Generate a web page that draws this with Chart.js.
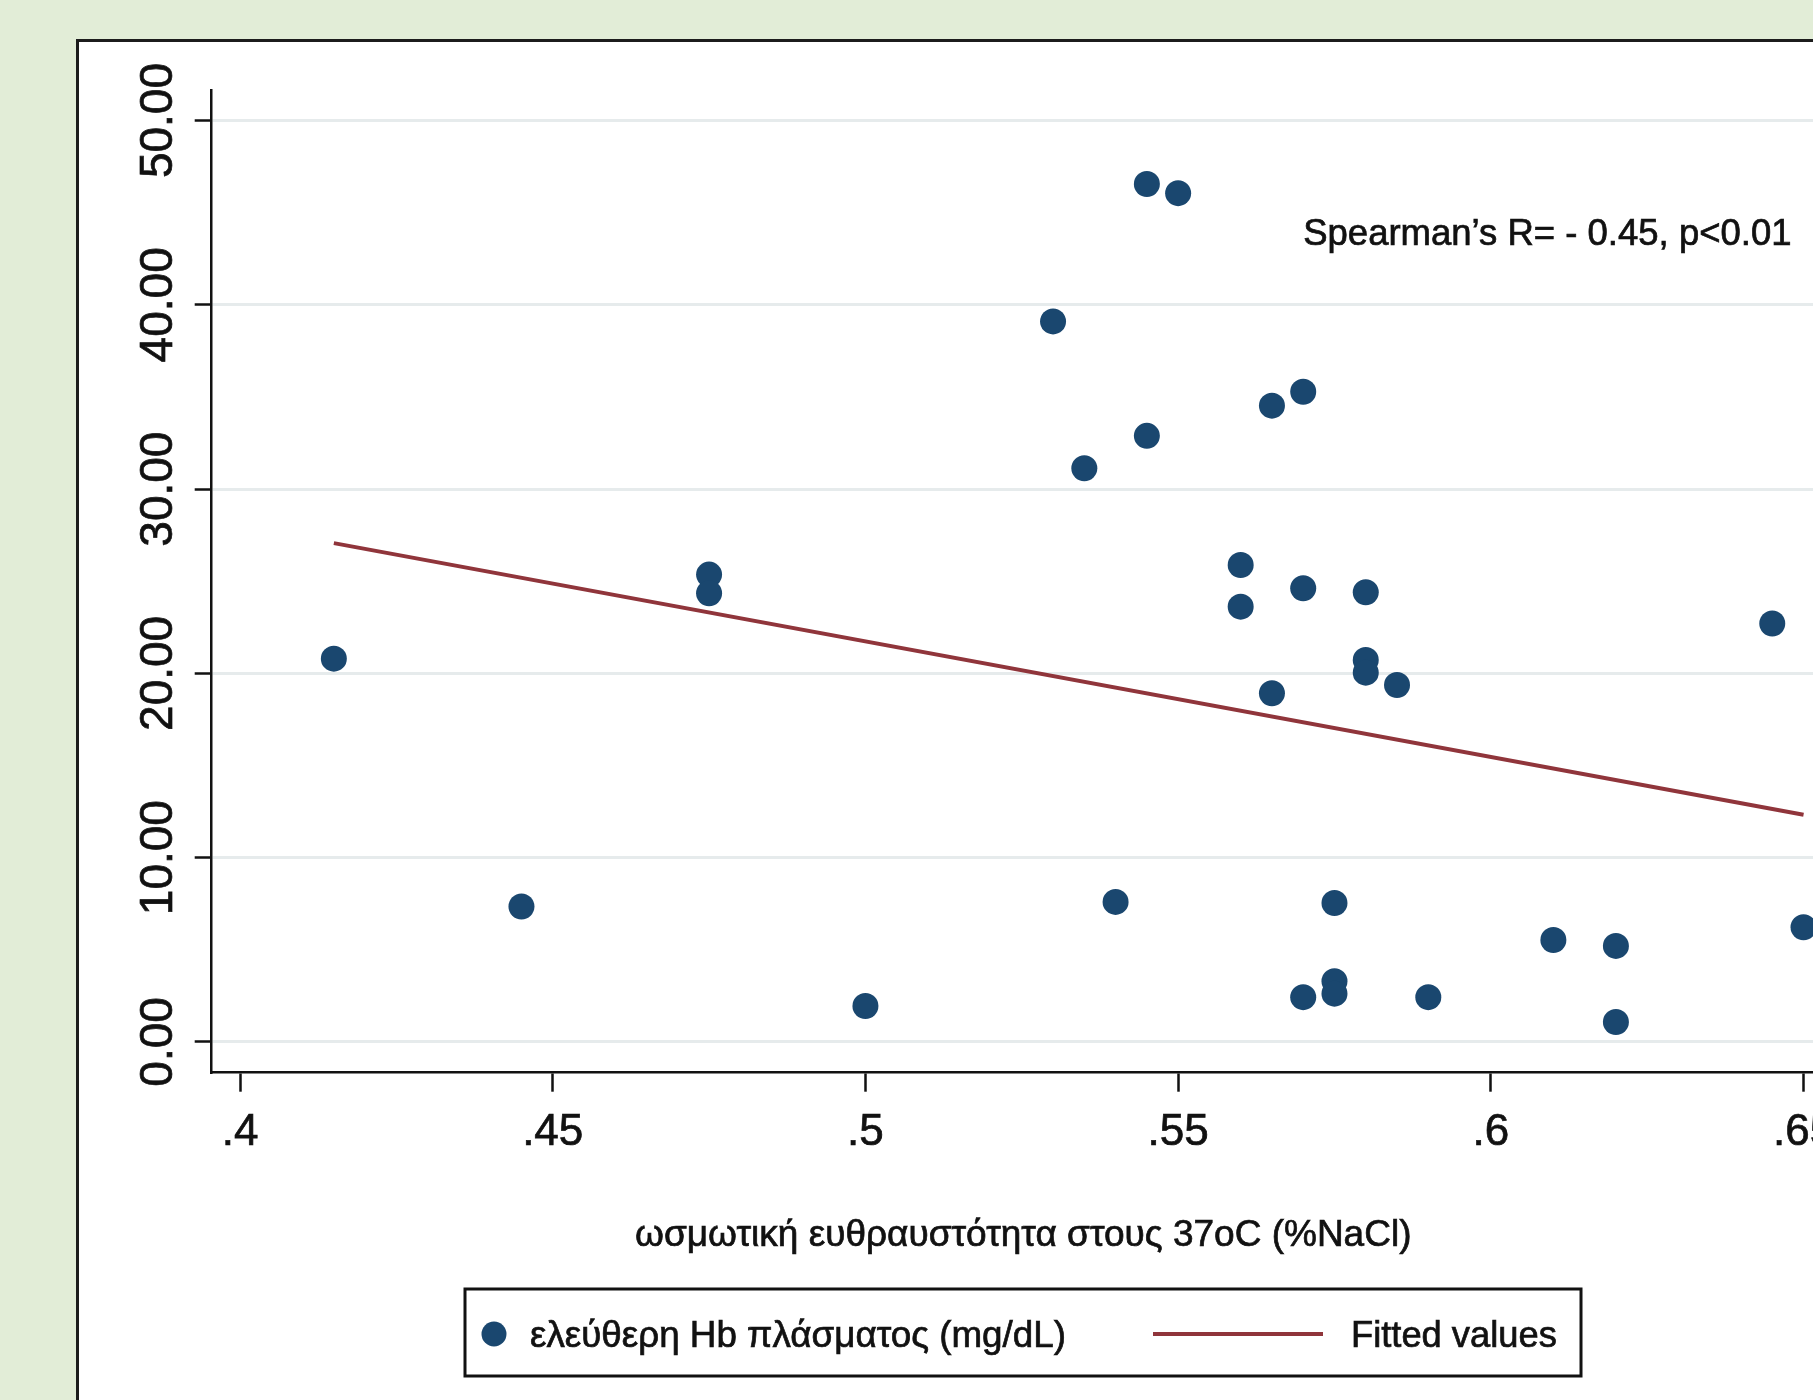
<!DOCTYPE html>
<html>
<head>
<meta charset="utf-8">
<script src="https://cdn.jsdelivr.net/npm/chart.js@4.4.1/dist/chart.umd.min.js"></script>
<style>
  html, body { margin: 0; padding: 0; width: 1813px; height: 1400px; overflow: hidden; background: #e2edd7; }
  #frame { position: absolute; left: 76px; top: 39px; width: 2000px; height: 1500px; background: #ffffff; border: 3px solid #1c1c1c; box-sizing: border-box; }
  #wrap { position: absolute; left: 0; top: 0; width: 2046px; height: 1400px; }
  canvas { display: block; }
</style>
</head>
<body>
<div id="frame"></div>
<div id="wrap"><canvas id="c" width="2046" height="1400"></canvas></div>
<script>
// ---- data ----
const osmoticFragility = [0.415, 0.445, 0.475, 0.475, 0.5, 0.53, 0.535, 0.54, 0.545, 0.55, 0.545,
  0.56, 0.56, 0.565, 0.565, 0.57, 0.57, 0.57, 0.575, 0.575, 0.575, 0.58, 0.58, 0.58, 0.585,
  0.59, 0.61, 0.62, 0.62, 0.645, 0.65];
const freeHb = [20.8, 7.35, 25.36, 24.35, 1.95, 39.1, 31.13, 7.6, 46.56, 46.06, 32.89,
  25.88, 23.62, 34.53, 18.92, 35.28, 24.62, 2.43, 7.54, 3.29, 2.62, 24.4, 20.73, 20.04, 19.37,
  2.43, 5.53, 5.21, 1.08, 22.71, 6.22];
const fitX = [0.415, 0.65];
const fitY = [27.07, 12.33];
const xTicks = [0.4, 0.45, 0.5, 0.55, 0.6, 0.65];
const xTickLabels = ['.4', '.45', '.5', '.55', '.6', '.65'];
const yTicks = [0, 10, 20, 30, 40, 50];
const yTickLabels = ['0.00', '10.00', '20.00', '30.00', '40.00', '50.00'];
const seriesLabels = ['ελεύθερη Hb πλάσματος (mg/dL)', 'Fitted values'];
const xTitle = 'ωσμωτική ευθραυστότητα στους 37oC (%NaCl)';
const noteText = 'Spearman’s R= - 0.45, p<0.01';
const noteX = 0.57;
const noteY = 43.25;

const FONT = "'Liberation Sans', Arial, Helvetica, sans-serif";
const NAVY = '#1a476f';
const MAROON = '#90353b';
const INK = '#111111';
const STROKE = 0.7;

function heavyText(ctx, text, x, y) {
  ctx.lineWidth = STROKE;
  ctx.strokeStyle = ctx.fillStyle;
  ctx.strokeText(text, x, y);
  ctx.fillText(text, x, y);
}

const yLabelPlugin = {
  id: 'yLabels',
  afterDraw(chart) {
    const ctx = chart.ctx, ys = chart.scales.y;
    ctx.save();
    ctx.font = '46px ' + FONT;
    ctx.fillStyle = INK;
    ctx.textAlign = 'center';
    ctx.textBaseline = 'middle';
    yTicks.forEach((v, i) => {
      ctx.save();
      ctx.translate(159, ys.getPixelForValue(v));
      ctx.rotate(-Math.PI / 2);
      heavyText(ctx, yTickLabels[i], 0, 0);
      ctx.restore();
    });
    ctx.restore();
  }
};

const notePlugin = {
  id: 'note',
  afterDraw(chart) {
    const ctx = chart.ctx;
    ctx.save();
    ctx.font = '36.5px ' + FONT;
    ctx.fillStyle = INK;
    ctx.textAlign = 'left';
    ctx.textBaseline = 'alphabetic';
    heavyText(ctx, noteText, chart.scales.x.getPixelForValue(noteX), chart.scales.y.getPixelForValue(noteY));
    ctx.restore();
  }
};

const titlePlugin = {
  id: 'xTitle',
  afterDraw(chart) {
    const ctx = chart.ctx, xs = chart.scales.x;
    ctx.save();
    ctx.font = '37px ' + FONT;
    ctx.fillStyle = INK;
    ctx.textAlign = 'center';
    ctx.textBaseline = 'alphabetic';
    heavyText(ctx, xTitle, (xs.left + xs.right) / 2, 1246);
    ctx.restore();
  }
};

const legendPlugin = {
  id: 'boxLegend',
  afterDraw(chart) {
    const ctx = chart.ctx;
    const ds = chart.data.datasets;
    ctx.save();
    ctx.lineWidth = 3;
    ctx.strokeStyle = INK;
    ctx.strokeRect(465, 1289, 1116, 87);
    const cy = 1334;
    ctx.fillStyle = ds[0].backgroundColor;
    ctx.beginPath();
    ctx.arc(494, cy, 12.5, 0, Math.PI * 2);
    ctx.fill();
    ctx.strokeStyle = ds[1].borderColor;
    ctx.lineWidth = ds[1].borderWidth;
    ctx.beginPath();
    ctx.moveTo(1153, cy);
    ctx.lineTo(1323, cy);
    ctx.stroke();
    ctx.font = '36.8px ' + FONT;
    ctx.fillStyle = INK;
    ctx.textAlign = 'left';
    ctx.textBaseline = 'alphabetic';
    heavyText(ctx, ds[0].label, 530, 1347);
    ctx.font = '36.3px ' + FONT;
    heavyText(ctx, ds[1].label, 1351, 1347);
    ctx.restore();
  }
};

new Chart(document.getElementById('c'), {
  type: 'scatter',
  data: {
    datasets: [
      {
        label: seriesLabels[0],
        data: osmoticFragility.map((x, i) => ({ x: x, y: freeHb[i] })),
        backgroundColor: NAVY,
        borderColor: NAVY,
        borderWidth: 0,
        pointRadius: 13,
        pointHoverRadius: 13,
        order: 0
      },
      {
        label: seriesLabels[1],
        type: 'line',
        data: fitX.map((x, i) => ({ x: x, y: fitY[i] })),
        borderColor: MAROON,
        backgroundColor: MAROON,
        borderWidth: 4,
        pointRadius: 0,
        showLine: true,
        fill: false,
        tension: 0,
        order: 1
      }
    ]
  },
  options: {
    responsive: false,
    animation: false,
    devicePixelRatio: 1,
    layout: { padding: { left: 0, top: 90.7, right: 211.2, bottom: 0 } },
    plugins: {
      legend: { display: false },
      tooltip: { enabled: false },
      title: { display: false }
    },
    scales: {
      x: {
        type: 'linear',
        min: 0.39547,
        max: 0.655,
        afterBuildTicks(scale) { scale.ticks = xTicks.map(v => ({ value: v })); },
        afterFit(scale) { scale.height = 1400 - 1072.7; },
        ticks: {
          autoSkip: false,
          maxRotation: 0,
          minRotation: 0,
          padding: 15,
          color: INK,
          textStrokeColor: INK,
          textStrokeWidth: STROKE,
          font: { family: FONT, size: 44 },
          callback: (v) => { const i = xTicks.findIndex(t => Math.abs(t - v) < 1e-9); return i >= 0 ? xTickLabels[i] : ''; }
        },
        grid: {
          drawOnChartArea: false,
          drawTicks: true,
          tickLength: 19,
          tickWidth: 2.5,
          tickColor: INK
        },
        border: { display: true, color: INK, width: 2.5 },
        title: { display: false }
      },
      y: {
        type: 'linear',
        min: -1.67,
        max: 51.62,
        afterBuildTicks(scale) { scale.ticks = yTicks.map(v => ({ value: v })); },
        afterFit(scale) { scale.width = 211.7; },
        ticks: { display: false },
        grid: {
          color: '#e6ebec',
          lineWidth: 3,
          drawTicks: true,
          tickLength: 17,
          tickWidth: 2.5,
          tickColor: INK
        },
        border: { display: true, color: INK, width: 2.5 }
      }
    }
  },
  plugins: [yLabelPlugin, notePlugin, titlePlugin, legendPlugin]
});
</script>
</body>
</html>
